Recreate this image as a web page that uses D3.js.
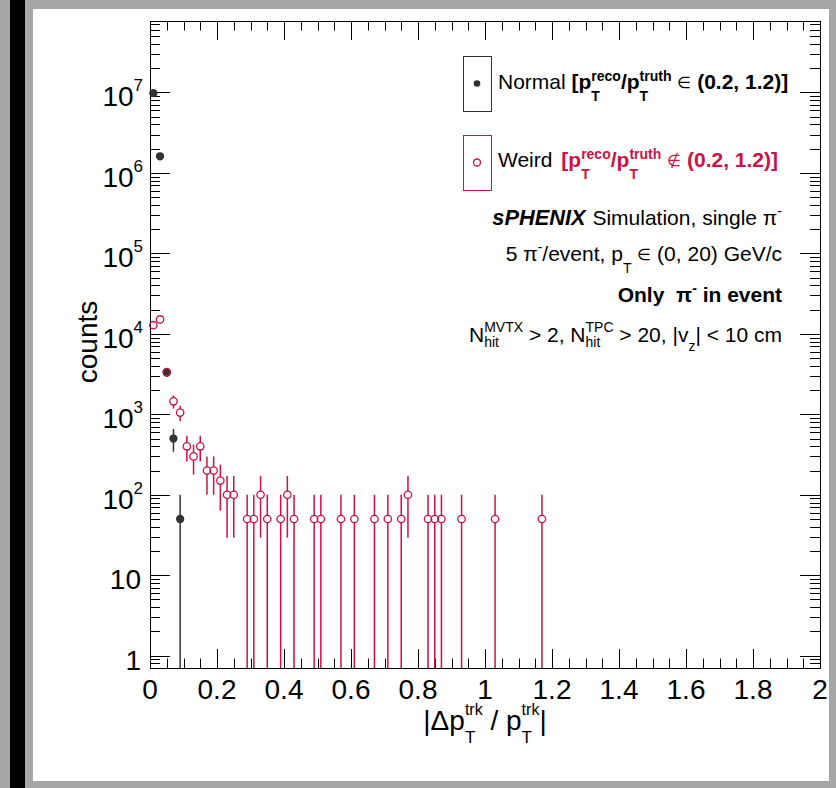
<!DOCTYPE html>
<html>
<head>
<meta charset="utf-8">
<script src="https://cdn.jsdelivr.net/npm/d3@7/dist/d3.min.js"></script>
<style>
  html, body { margin: 0; padding: 0; background: #a6a6a6; }
  svg { display: block; }
  text { font-family: "Liberation Sans", Arial, Helvetica, sans-serif; white-space: pre; }
</style>
</head>
<body>
<svg id="chart" width="836" height="788"></svg>
<script>
// ---------------- data ----------------
const X_DOMAIN = [0, 2];
const Y_DOMAIN = [0.703, 7.73e7];
const xTickValues = [0, 0.2, 0.4, 0.6, 0.8, 1, 1.2, 1.4, 1.6, 1.8, 2];
const xTickLabels = ["0", "0.2", "0.4", "0.6", "0.8", "1", "1.2", "1.4", "1.6", "1.8", "2"];
const yTickValues = [1, 10, 1e2, 1e3, 1e4, 1e5, 1e6, 1e7];
const yTickBase = ["1", "10", "10", "10", "10", "10", "10", "10"];
const yTickExp = ["", "", "2", "3", "4", "5", "6", "7"];

// Normal [pT reco/truth in (0.2,1.2)]
const normalX = [0.01, 0.03, 0.05, 0.07, 0.09];
const normalY = [9.8e6, 1.61e6, 3310, 500, 50];
const normalErr = [22136, 8972, 407, 158, 50];

// Weird [pT reco/truth not in (0.2,1.2)]
const weirdX = [0.01, 0.03, 0.05, 0.07, 0.09, 0.11, 0.13, 0.15, 0.17, 0.19, 0.21, 0.23, 0.25,
  0.29, 0.31, 0.33, 0.35, 0.39, 0.41, 0.43, 0.49, 0.51, 0.57, 0.61, 0.67, 0.71, 0.75, 0.77,
  0.83, 0.85, 0.87, 0.93, 1.03, 1.17];
const weirdY = [1.28e4, 1.51e4, 3350, 1450, 1050, 400, 300, 400, 200, 200, 150, 100, 100,
  50, 50, 100, 50, 50, 100, 50, 50, 50, 50, 50, 50, 50, 50, 100,
  50, 50, 50, 50, 50, 50];
const weirdErr = [800, 869, 409, 269, 229, 141, 122, 141, 100, 100, 86.6, 70.7, 70.7,
  50, 50, 70.7, 50, 50, 70.7, 50, 50, 50, 50, 50, 50, 50, 50, 70.7,
  50, 50, 50, 50, 50, 50];

// ---------------- style ----------------
const BLACK = "#000";
const NORMAL_COL = "#333333";
const WEIRD_COL = "#cc1144";
const FONT = 21;
const SMALL = 14;
const SYM = 16;

const svg = d3.select("#chart");
const W = 836, H = 788;
const M = { left: 150, right: 820, top: 21, bottom: 668 };

// canvas frame
svg.append("rect").attr("x", 0).attr("y", 0).attr("width", W).attr("height", H).attr("fill", "#a6a6a6");
svg.append("rect").attr("x", 10).attr("y", 0).attr("width", 15).attr("height", H).attr("fill", "#000");
svg.append("rect").attr("x", 33).attr("y", 9).attr("width", 796).attr("height", 772).attr("fill", "#fff");

const x = d3.scaleLinear().domain(X_DOMAIN).range([M.left, M.right]);
const y = d3.scaleLog().domain(Y_DOMAIN).range([M.bottom, M.top]);

// ---------------- ticks ----------------
const ticks = svg.append("g").attr("stroke", BLACK).attr("stroke-width", 1);
const xMajorLen = 19, xMinorLen = 9.5, yMajorLen = 20, yMinorLen = 10;
const xMinor = d3.range(0, 41).map(i => i * 0.05).filter(v => Math.abs(v * 5 - Math.round(v * 5)) > 1e-6);
xTickValues.forEach(v => {
  const px = Math.round(x(v)) + 0.5;
  ticks.append("line").attr("x1", px).attr("x2", px).attr("y1", M.bottom).attr("y2", M.bottom - xMajorLen);
  ticks.append("line").attr("x1", px).attr("x2", px).attr("y1", M.top).attr("y2", M.top + xMajorLen);
});
xMinor.forEach(v => {
  const px = Math.round(x(v)) + 0.5;
  ticks.append("line").attr("x1", px).attr("x2", px).attr("y1", M.bottom).attr("y2", M.bottom - xMinorLen);
  ticks.append("line").attr("x1", px).attr("x2", px).attr("y1", M.top).attr("y2", M.top + xMinorLen);
});
const yMinor = [];
for (let e = -1; e <= 7; e++) for (let m = 2; m <= 9; m++) {
  const v = m * Math.pow(10, e);
  if (v > Y_DOMAIN[0] && v < Y_DOMAIN[1]) yMinor.push(v);
}
yTickValues.forEach(v => {
  const py = Math.round(y(v)) + 0.5;
  ticks.append("line").attr("x1", M.left).attr("x2", M.left + yMajorLen).attr("y1", py).attr("y2", py);
  ticks.append("line").attr("x1", M.right).attr("x2", M.right - yMajorLen).attr("y1", py).attr("y2", py);
});
yMinor.forEach(v => {
  const py = Math.round(y(v)) + 0.5;
  ticks.append("line").attr("x1", M.left).attr("x2", M.left + yMinorLen).attr("y1", py).attr("y2", py);
  ticks.append("line").attr("x1", M.right).attr("x2", M.right - yMinorLen).attr("y1", py).attr("y2", py);
});

// frame
svg.append("rect").attr("x", M.left + 0.5).attr("y", M.top + 0.5)
  .attr("width", M.right - M.left).attr("height", M.bottom - M.top)
  .attr("fill", "none").attr("stroke", BLACK).attr("stroke-width", 1);

// tick labels
xTickValues.forEach((v, i) => {
  svg.append("text").attr("x", x(v)).attr("y", M.bottom + 30.5)
    .attr("text-anchor", "middle").attr("font-size", 28).attr("fill", BLACK).text(xTickLabels[i]);
});
yTickValues.forEach((v, i) => {
  const t = svg.append("text").attr("y", y(v) + 14).attr("font-size", 28).attr("fill", BLACK)
    .attr("text-anchor", "end");
  if (yTickExp[i]) {
    t.attr("x", 143);
    t.append("tspan").text(yTickBase[i]);
    t.append("tspan").attr("font-size", 17).attr("dy", -15).text(yTickExp[i]);
  } else {
    t.attr("x", 141).text(yTickBase[i]);
  }
});

// ---------------- rich text helper ----------------
function rich(parent, px, py, pieces, anchor) {
  const g = parent.append("g");
  let cx = 0;
  const mk = (p, xx) => {
    const t = g.append("text").attr("x", xx).attr("y", p.dy || 0)
      .attr("font-size", p.size || FONT)
      .attr("font-weight", p.bold ? "bold" : "normal")
      .attr("font-style", p.italic ? "italic" : "normal")
      .attr("fill", p.fill || BLACK).text(p.t);
    return t.node().getComputedTextLength();
  };
  pieces.forEach(p => {
    cx += p.dx || 0;
    if (p.stack) {
      let w = 0;
      p.stack.forEach(s => { w = Math.max(w, mk(s, cx)); });
      cx += w;
    } else {
      cx += mk(p, cx);
    }
  });
  const shift = anchor === "end" ? -cx : anchor === "middle" ? -cx / 2 : 0;
  g.attr("transform", `translate(${px + shift},${py})`);
  return g;
}

// axis titles
rich(svg, 485, 730, [
  { t: "|Δp", size: 28 },
  { stack: [{ t: "trk", size: 16, dy: -15 }, { t: "T", size: 17, dy: 13 }] },
  { t: " / p", size: 28 },
  { stack: [{ t: "trk", size: 16, dy: -15 }, { t: "T", size: 17, dy: 13 }] },
  { t: "|", size: 28 }
], "middle");

svg.append("text").attr("transform", "translate(97,342) rotate(-90)")
  .attr("text-anchor", "middle").attr("font-size", 28).attr("fill", BLACK).text("counts");

// ---------------- data marks ----------------
function drawSeries(xs, ys, es, color, filled, r) {
  const g = svg.append("g");
  xs.forEach((xv, i) => {
    const cx = x(xv), cy = y(ys[i]);
    const hi = Math.min(ys[i] + es[i], Y_DOMAIN[1]);
    const lo = Math.max(ys[i] - es[i], Y_DOMAIN[0]);
    const yh = y(hi), yl = y(lo);
    if (cy - r > yh) g.append("line").attr("x1", cx).attr("x2", cx).attr("y1", yh).attr("y2", cy - r)
      .attr("stroke", color).attr("stroke-width", 1.5);
    if (yl > cy + r) g.append("line").attr("x1", cx).attr("x2", cx).attr("y1", cy + r).attr("y2", yl)
      .attr("stroke", color).attr("stroke-width", 1.5);
    g.append("circle").attr("cx", cx).attr("cy", cy).attr("r", r)
      .attr("fill", filled ? color : "none").attr("stroke", color).attr("stroke-width", 1.3);
  });
}
drawSeries(normalX, normalY, normalErr, NORMAL_COL, true, 3.5);
drawSeries(weirdX, weirdY, weirdErr, WEIRD_COL, false, 3.7);

// ---------------- legend ----------------
const leg = svg.append("g");
leg.append("rect").attr("x", 463.5).attr("y", 56.5).attr("width", 28).attr("height", 55)
  .attr("fill", "none").attr("stroke", NORMAL_COL).attr("stroke-width", 1);
leg.append("circle").attr("cx", 477).attr("cy", 83.5).attr("r", 3.3).attr("fill", NORMAL_COL);
leg.append("rect").attr("x", 463.5).attr("y", 135.5).attr("width", 28).attr("height", 55)
  .attr("fill", "none").attr("stroke", WEIRD_COL).attr("stroke-width", 1);
leg.append("circle").attr("cx", 477).attr("cy", 162.5).attr("r", 3.5).attr("fill", "none")
  .attr("stroke", WEIRD_COL).attr("stroke-width", 1.3);

rich(svg, 498, 88.5, [
  { t: "Normal " },
  { t: "[p", bold: true },
  { stack: [{ t: "reco", size: SMALL, dy: -8, bold: true }, { t: "T", size: SMALL, dy: 12, bold: true }] },
  { t: "/p", bold: true },
  { stack: [{ t: "truth", size: SMALL, dy: -8, bold: true }, { t: "T", size: SMALL, dy: 12, bold: true }] },
  { t: " " },
  { t: "∈", size: SYM, dy: -1 },
  { t: " " },
  { t: "(0.2, 1.2)]", bold: true }
], "start");

rich(svg, 498, 167, [
  { t: "Weird " },
  { t: "[p", bold: true, fill: WEIRD_COL, dx: 3 },
  { stack: [{ t: "reco", size: SMALL, dy: -8, bold: true, fill: WEIRD_COL }, { t: "T", size: SMALL, dy: 12, bold: true, fill: WEIRD_COL }] },
  { t: "/p", bold: true, fill: WEIRD_COL },
  { stack: [{ t: "truth", size: SMALL, dy: -8, bold: true, fill: WEIRD_COL }, { t: "T", size: SMALL, dy: 12, bold: true, fill: WEIRD_COL }] },
  { t: " ", fill: WEIRD_COL },
  { t: "∉", size: SYM, dy: -1, fill: WEIRD_COL },
  { t: " ", fill: WEIRD_COL },
  { t: "(0.2, 1.2)]", bold: true, fill: WEIRD_COL }
], "start");

// ---------------- annotation block ----------------
const RX = 782;
rich(svg, RX, 225, [
  { t: "sPHENIX", bold: true, italic: true, size: 21.8 },
  { t: " Simulation, single π", dx: 1 },
  { t: "-", size: SMALL, dy: -9 }
], "end");
rich(svg, RX, 261, [
  { t: "5 π" },
  { t: "-", size: SMALL, dy: -9 },
  { t: "/event, p" },
  { t: "T", size: SMALL, dy: 12 },
  { t: " " },
  { t: "∈", size: SYM, dy: -1 },
  { t: " (0, 20) GeV/c" }
], "end");
rich(svg, RX, 302, [
  { t: "Only  π", bold: true },
  { t: "-", size: SMALL, dy: -9, bold: true },
  { t: " in event", bold: true }
], "end");
rich(svg, RX, 342, [
  { t: "N" },
  { stack: [{ t: "MVTX", size: SMALL, dy: -10 }, { t: "hit", size: SMALL, dy: 5 }] },
  { t: " > 2, N" },
  { stack: [{ t: "TPC", size: SMALL, dy: -10 }, { t: "hit", size: SMALL, dy: 5 }] },
  { t: " > 20, |v" },
  { t: "z", size: SMALL, dy: 9 },
  { t: "| < 10 cm" }
], "end");
</script>
</body>
</html>
